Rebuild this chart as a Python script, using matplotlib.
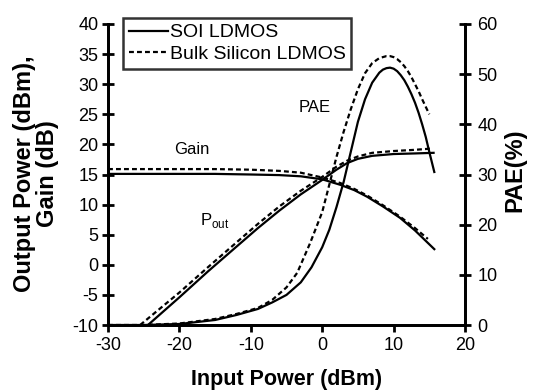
import matplotlib
matplotlib.use('Agg')
import matplotlib.pyplot as plt

plt.rcParams['font.family'] = ['Liberation Sans', 'DejaVu Sans']
plt.rcParams['mathtext.fontset'] = 'custom'
plt.rcParams['mathtext.rm'] = 'Liberation Sans'
plt.rcParams['axes.unicode_minus'] = False

# gain (dB) vs input power (dBm)
gain_x_soi = [-30, -25, -20, -15, -10, -6, -3, 0, 2.5, 4.5, 6.3, 8.5, 10.9, 13, 15.7]
gain_soi = [15.1, 15.1, 15.1, 15.1, 15.0, 14.9, 14.7, 14.2, 13.3, 12.4, 11.3, 9.7, 7.8, 5.7, 2.6]
gain_x_bulk = [-30, -25, -20, -15, -10, -6, -3, 0, 2.5, 4.5, 6.3, 8.5, 10.9, 13, 14.8]
gain_bulk = [15.9, 15.9, 15.9, 15.9, 15.8, 15.6, 15.3, 14.5, 13.6, 12.6, 11.5, 9.9, 8.0, 6.1, 4.3]

# output power (dBm)
pout_x_soi = [-24.4, -20, -16, -12.7, -9, -6, -3, 0, 2, 3.5, 5, 7, 10, 13, 15.6]
pout_soi = [-10, -5.4, -1.1, 2.3, 6.1, 9.0, 11.7, 14.1, 15.8, 16.9, 17.6, 18.1, 18.4, 18.5, 18.6]
pout_x_bulk = [-25.5, -20, -16, -12.7, -9, -6, -3, 0, 2, 3.5, 5, 7, 10, 13, 15.2]
pout_bulk = [-10, -4.6, -0.4, 3.0, 6.8, 9.7, 12.3, 14.6, 16.3, 17.3, 18.0, 18.6, 18.9, 19.1, 19.3]

# PAE (%)
pae_x_soi = [-30, -25, -20, -15, -12, -9, -7, -5, -3, -1.5, 0, 1, 2, 3, 4, 5, 6, 7, 8, 8.5, 9, 9.5,
             10, 10.5, 11, 11.5, 12, 12.5, 13, 13.5, 14, 14.5, 15, 15.7]
pae_soi = [0, 0, 0.2, 1.0, 2.0, 3.2, 4.5, 6.0, 8.5, 11.5, 15.5, 19, 23.5, 28.5, 34.5, 40.5, 45, 48.3, 50.3, 50.9,
           51.2, 51.3, 51.1, 50.6, 49.8, 48.8, 47.5, 46.0, 44.3, 42.3, 40.0, 37.5, 34.5, 30.5]
pae_x_bulk = [-30, -25, -20, -15, -12, -9, -7, -5, -3.5, -1.7, 0, 1, 2, 3, 4, 5, 6, 7, 8, 8.5, 9, 9.5,
              10, 10.5, 11, 11.5, 12, 12.5, 13, 13.5, 14, 14.5, 15]
pae_bulk = [0, 0, 0.3, 1.2, 2.2, 3.4, 5.0, 7.5, 10.4, 16.3, 22.5, 28, 33.5, 38.5, 43, 47, 50.2, 52.2, 53.2, 53.4,
            53.6, 53.6, 53.4, 53.0, 52.4, 51.6, 50.6, 49.4, 48.0, 46.6, 45.0, 43.5, 42.0]

dash = (0, (2.2, 1.4))
lw = 1.6

fig = plt.figure(figsize=(5.39, 3.92), dpi=100)
ax = fig.add_axes([108/539, 1-325/392, 357/539, 301/392])
ax2 = ax.twinx()

ax.plot(gain_x_soi, gain_soi, color='black', lw=lw, label='SOI LDMOS')
ax.plot(gain_x_bulk, gain_bulk, color='black', lw=lw, linestyle=dash, label='Bulk Silicon LDMOS')
ax.plot(pout_x_soi, pout_soi, color='black', lw=lw)
ax.plot(pout_x_bulk, pout_bulk, color='black', lw=lw, linestyle=dash)
ax2.plot(pae_x_soi, pae_soi, color='black', lw=lw)
ax2.plot(pae_x_bulk, pae_bulk, color='black', lw=lw, linestyle=dash)

ax.set_xlim(-30, 20)
ax.set_ylim(-10, 40)
ax2.set_ylim(0, 60)
ax.set_xticks(range(-30, 21, 10))
ax.set_yticks(range(-10, 41, 5))
ax2.set_yticks(range(0, 61, 10))

for a in (ax, ax2):
    a.spines['top'].set_visible(False)
    for s in ('left', 'right', 'bottom'):
        a.spines[s].set_linewidth(2)
ax.tick_params(axis='x', direction='out', length=5, width=2, labelsize=13, pad=4)
ax.tick_params(axis='y', direction='inout', length=8, width=2, labelsize=13, pad=3)
ax2.tick_params(axis='y', direction='inout', length=8, width=2, labelsize=13, pad=5)

ax.text(-18.3, 19.1, 'Gain', fontsize=12, ha='center', va='center')
ax.text(-1.1, 26.2, 'PAE', fontsize=12, ha='center', va='center')
ax.text(-15.1, 7.3, r'P$_{\rm out}$', fontsize=12, ha='center', va='center')

leg = ax.legend(loc='upper left', bbox_to_anchor=(0.042, 1.02), fontsize=14,
                frameon=True, fancybox=False, handlelength=2.0, handletextpad=0.1,
                labelspacing=0.2, borderpad=0.3, borderaxespad=0)
leg.get_frame().set_edgecolor('black')
leg.get_frame().set_linewidth(1.8)

fig.text(36/539, 1-174/392, 'Output Power (dBm),\nGain (dB)', rotation=90,
         ha='center', va='center', multialignment='center', fontsize=17,
         fontweight='bold', linespacing=1.05)
fig.text(515/539, 1-170/392, 'PAE(%)', rotation=90, ha='center', va='center',
         fontsize=17, fontweight='bold')
fig.text(286.5/539, 1-380/392, 'Input Power (dBm)', ha='center', va='center',
         fontsize=15.5, fontweight='bold')

fig.savefig('out.png', dpi=100)
